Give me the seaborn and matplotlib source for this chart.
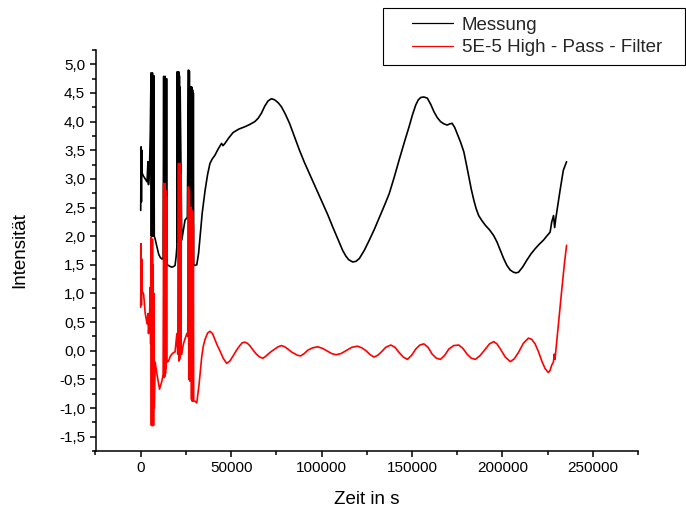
import numpy as np
import pandas as pd
import matplotlib
matplotlib.use("Agg")
import matplotlib.pyplot as plt
from matplotlib.ticker import MultipleLocator, FuncFormatter
from matplotlib.patches import Rectangle
import seaborn as sns

# Messung: Zeit (s) und Intensität
t_messung = [
    0, 200, 400, 600, 800, 1500, 2500, 3500, 4000, 4300, 4800, 5300,
    5700, 5900, 6100, 6300, 6500, 6700, 6900, 7100, 7300, 7500,
    8000, 9000, 10000, 10800, 11800, 12400,
    12700, 12900, 13100, 13300, 13500, 13700, 13900, 14100, 14300, 14500,
    15400, 16300, 17200, 18200, 19000, 19600, 20000,
    20200, 20400, 20600, 20800, 21000, 21200, 21400, 21600, 21800,
    22700, 23600, 24500, 25800,
    26400, 26600, 26900, 27200,
    27900, 28100, 28300, 28500, 28700, 28900, 29100, 29300,
    30000, 31000, 32000, 32800, 34000, 35600, 37000, 38300, 39600, 41000,
    42800, 44700, 45500, 46600, 48800, 51100, 54300, 57600, 60300, 63100,
    65000, 66800, 68600, 70400, 72300, 74100, 76000, 77800, 80000, 82300,
    85000, 87800, 90500, 93300, 97000, 100700, 103500, 106200, 109000, 111700,
    113500, 115000, 117200, 119000, 120900, 123600, 126400, 129200, 132000, 134700,
    137400, 140200, 142900, 145700, 148400, 150300, 152100, 153500, 154800, 156500,
    158500, 160400, 162200, 164000, 165800, 167700, 169500, 170900, 172200, 173600,
    175000, 176900, 178700, 180000, 181400, 182800, 184200, 185500, 186900, 188700,
    190600, 192900, 195200, 197000, 198900, 200700, 202500, 204300, 206200, 207500,
    208900, 211200, 213500, 215800, 218100, 220400, 222700, 224500, 226400, 227300,
    228300, 228900, 229500, 230700, 231900, 233700, 235500,
]
i_messung = [
    2.45, 3.56, 2.60, 3.50, 3.10, 3.05, 3.00, 2.95, 3.30, 2.90, 3.10, 3.80,
    4.85, 2.00, 4.80, 2.10, 4.85, 2.00, 4.75, 2.05, 4.80, 2.00,
    1.95, 1.81, 1.68, 1.63, 1.60, 1.62,
    4.79, 1.60, 4.75, 1.58, 4.79, 1.60, 4.70, 1.55, 4.75, 1.50,
    1.49, 1.47, 1.46, 1.47, 1.49, 1.65, 1.81,
    4.87, 1.90, 4.80, 2.00, 4.87, 1.95, 4.80, 2.00, 4.60,
    1.93, 2.10, 2.28, 2.33,
    4.90, 1.55, 4.88, 1.52,
    4.61, 1.55, 4.60, 1.50, 4.55, 1.55, 4.50, 1.50,
    1.49, 1.50, 1.70, 1.98, 2.40, 2.80, 3.08, 3.27, 3.35, 3.41,
    3.52, 3.62, 3.58, 3.62, 3.72, 3.81, 3.87, 3.91, 3.95, 4.00,
    4.06, 4.15, 4.27, 4.36, 4.40, 4.38, 4.33, 4.26, 4.13, 3.97,
    3.74, 3.50, 3.29, 3.09, 2.83, 2.57, 2.37, 2.16, 1.95, 1.75,
    1.65, 1.59, 1.55, 1.56, 1.61, 1.75, 1.93, 2.12, 2.33, 2.53,
    2.74, 3.03, 3.33, 3.63, 3.91, 4.12, 4.29, 4.38, 4.42, 4.43,
    4.41, 4.30, 4.17, 4.07, 4.00, 3.96, 3.94, 3.96, 3.97, 3.90,
    3.79, 3.64, 3.47, 3.27, 3.04, 2.82, 2.63, 2.48, 2.36, 2.27,
    2.19, 2.11, 2.01, 1.90, 1.75, 1.61, 1.49, 1.41, 1.37, 1.36,
    1.37, 1.46, 1.58, 1.69, 1.78, 1.86, 1.93, 2.00, 2.07, 2.25,
    2.36, 2.15, 2.30, 2.55, 2.80, 3.15, 3.30,
]

# Hochpass-gefiltertes Signal
t_filter = [
    0, 200, 400, 600, 700, 1600, 2500, 3500, 4000, 4300, 4800, 5300, 5500,
    5700, 5900, 6100, 6300, 6500, 6700, 6900, 7100, 7300, 7500,
    8000, 9000, 10400, 11700, 12400,
    12700, 12900, 13100, 13300, 13500, 13700, 13900, 14100, 14300, 14500,
    15400, 16300, 17200, 18200, 19000, 20000, 20500,
    20900, 21100, 21300, 21500, 21700, 21900, 22100, 22300,
    22700, 23600, 25500, 26000,
    26400, 26600, 26900, 27200, 27600,
    27900, 28100, 28300, 28500, 28700, 28900, 29100, 29300,
    30000, 31000, 32300, 33700, 34600, 35600, 37000, 38300, 39700, 41000,
    42400, 43800, 45600, 47500, 49300, 51100, 53000, 54800, 56200, 57600,
    59000, 60300, 62200, 64000, 65800, 67600, 69000, 70400, 72300, 74100,
    76000, 77800, 79600, 81400, 83300, 85100, 86800, 88400, 90400, 92400,
    95000, 97900, 100600, 103400, 105700, 108000, 110700, 113500, 116700, 119900,
    122300, 124600, 126900, 129100, 131000, 132800, 135500, 138300, 140600, 142900,
    145200, 147500, 149800, 152100, 154400, 156600, 158900, 161200, 163500, 165800,
    168100, 170400, 173100, 175900, 178200, 180500, 182800, 185100, 187800, 190600,
    192900, 195200, 197000, 198900, 201600, 204400, 206600, 208900, 211600, 214400,
    216200, 218100, 220000, 221800, 223600, 225400, 226300, 227300, 228200, 228700,
    229100, 231000, 232800, 234300, 235500,
]
i_filter = [
    0.76, 1.87, 0.80, 1.60, 1.05, 0.99, 0.65, 0.47, 0.65, 0.30, 0.50, 1.11, 0.12,
    1.98, -1.30, 1.90, -1.31, 1.95, -1.25, 1.50, -1.30, 1.00, -1.00,
    -0.20, -0.41, -0.67, -0.53, -0.41,
    2.92, -0.47, 2.85, -0.45, 2.92, -0.40, 2.80, -0.30, 2.70, -0.20,
    -0.18, -0.10, -0.06, -0.03, -0.02, 0.30, -0.06,
    3.27, -0.18, 3.20, -0.15, 3.27, -0.10, 3.10, -0.05,
    -0.06, 0.12, 0.30, 0.25,
    2.86, -0.50, 2.80, -0.53, 0.20,
    2.51, -0.85, 2.45, -0.88, 2.40, -0.85, 2.20, -0.88,
    -0.88, -0.91, -0.58, -0.12, 0.08, 0.20, 0.31, 0.34, 0.30, 0.20,
    0.09, 0.00, -0.13, -0.22, -0.18, -0.09, 0.01, 0.09, 0.14, 0.15,
    0.13, 0.09, 0.01, -0.06, -0.11, -0.13, -0.10, -0.06, -0.01, 0.03,
    0.07, 0.09, 0.07, 0.03, -0.02, -0.05, -0.08, -0.09, -0.05, 0.01,
    0.05, 0.07, 0.04, -0.01, -0.05, -0.07, -0.05, 0.00, 0.06, 0.08,
    0.05, 0.00, -0.07, -0.11, -0.08, -0.03, 0.06, 0.10, 0.06, -0.03,
    -0.11, -0.15, -0.08, 0.03, 0.10, 0.12, 0.06, -0.06, -0.13, -0.15,
    -0.08, 0.03, 0.09, 0.10, 0.04, -0.06, -0.13, -0.15, -0.08, 0.03,
    0.12, 0.16, 0.12, 0.03, -0.11, -0.19, -0.14, -0.03, 0.13, 0.22,
    0.20, 0.12, -0.02, -0.18, -0.31, -0.38, -0.35, -0.25, -0.20, -0.06,
    -0.15, 0.47, 1.05, 1.52, 1.84,
]

label_messung = "Messung"
label_filter = "5E-5 High - Pass - Filter"

sns.set_theme(style="ticks")
plt.rcParams["font.family"] = ["Liberation Sans", "DejaVu Sans"]
plt.rcParams["axes.unicode_minus"] = False

df = pd.concat([
    pd.DataFrame({"Zeit": t_messung, "Intensität": i_messung, "Reihe": label_messung}),
    pd.DataFrame({"Zeit": t_filter, "Intensität": i_filter, "Reihe": label_filter}),
], ignore_index=True)

fig = plt.figure(figsize=(6.86, 5.09), dpi=100)
ax = fig.add_axes([95.5 / 686, 1 - 451 / 509, (638 - 95.5) / 686, (451 - 50) / 509])

sns.lineplot(data=df, x="Zeit", y="Intensität", hue="Reihe",
             palette={label_messung: "black", label_filter: "red"},
             estimator=None, sort=False, linewidth=1.2, ax=ax, legend=False)

ax.set_xlim(-25000, 275000)
ax.set_ylim(-1.75, 5.25)
ax.xaxis.set_major_locator(MultipleLocator(50000))
ax.xaxis.set_minor_locator(MultipleLocator(25000))
ax.yaxis.set_major_locator(MultipleLocator(0.5))
ax.yaxis.set_minor_locator(MultipleLocator(0.25))
ax.yaxis.set_major_formatter(FuncFormatter(lambda v, p: f"{v:.1f}".replace(".", ",")))
ax.xaxis.set_major_formatter(FuncFormatter(lambda v, p: f"{v:.0f}"))

for side in ("top", "right"):
    ax.spines[side].set_visible(False)
for side in ("left", "bottom"):
    ax.spines[side].set_linewidth(1.1)
    ax.spines[side].set_color("black")

ax.tick_params(which="major", direction="out", length=4.5, width=1.1,
               labelsize=11, colors="black", pad=3)
ax.tick_params(which="minor", direction="out", length=2.6, width=1.1, colors="black")

ax.set_xlabel("Zeit in s", fontsize=13.5, labelpad=11, color="black")
ax.set_ylabel("Intensität", fontsize=13.5, labelpad=22, color="black")
ax.grid(False)

handles = [plt.Line2D([], [], color="black", linewidth=0.9),
           plt.Line2D([], [], color="red", linewidth=0.9)]
fig.legend(handles, [label_messung, label_filter], loc="center left",
           bbox_to_anchor=(412 / 686, 1 - 36.5 / 509), frameon=False,
           fontsize=13.5, handlelength=2.2, handletextpad=0.45,
           labelspacing=0.3, borderpad=0, borderaxespad=0)
fig.patches.append(Rectangle((383 / 686, 1 - 65 / 509), 302 / 686, 57 / 509,
                             transform=fig.transFigure, fill=False,
                             edgecolor="black", linewidth=0.8))

fig.savefig("out.png", dpi=100)
